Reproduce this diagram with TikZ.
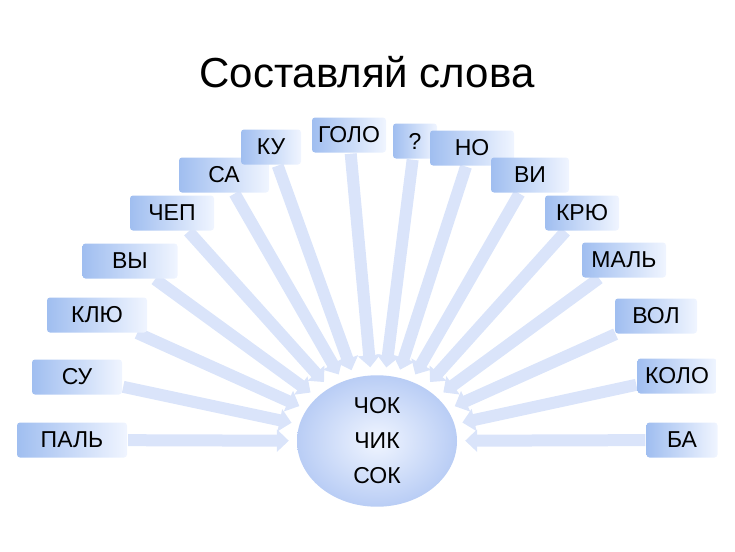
\documentclass[tikz,border=0pt]{standalone}
\usepackage{fontspec}
\setmainfont{Liberation Sans}
\usetikzlibrary{arrows.meta,shapes.geometric,backgrounds}
\definecolor{boxblue}{RGB}{160,190,240}
\definecolor{paleblue}{RGB}{240,245,255}
\definecolor{rayblue}{RGB}{218,228,250}
\definecolor{ballblue}{RGB}{185,205,245}

\tikzset{
  syl/.style={rounded corners=3pt,minimum height=35pt,inner sep=0pt,
    left color=boxblue,right color=paleblue,font=\fontsize{23}{23}\selectfont},
  ray/.style={line width=12pt,draw=rayblue,-{Triangle[width=22pt,length=12pt]},shorten >=8pt,shorten <=1pt},
}

\begin{document}
\begin{tikzpicture}[x=1pt,y=-1pt]
\useasboundingbox (0,0) rectangle (735,551);
\node[font=\fontsize{42}{42}\selectfont] (title) at (367,72) {Составляй слова};
\node[ellipse,minimum width=160pt,minimum height=112pt,inner color=paleblue,outer color=ballblue,
  font=\fontsize{23}{35}\selectfont,align=center] (root) at (377,441) {ЧОК\\ЧИК\\СОК};
\foreach \nm/\x/\y/\w/\txt in {pal/72/440/110/ПАЛЬ, su/77/377/90/СУ, klu/97/315/100/КЛЮ,
    vy/130/261/95/ВЫ, chep/172/213/84/ЧЕП, sa/224/175/90/СА, ku/271/147/60/КУ,
    golo/349/135/74/ГОЛО, q/415/141/44/?, no/472/148/84/НО, vi/530/175/78/ВИ,
    kru/582/213/74/КРЮ, mal/624/260/84/МАЛЬ, vol/656/316/82/ВОЛ, kolo/677/376/79/КОЛО,
    ba/682/440/71/БА}{
  \node[syl,minimum width=\w pt] (\nm) at (\x,\y) {\txt};
}
\begin{scope}[on background layer]
\foreach \nm in {pal,su,klu,vy,chep,sa,ku,golo,q,no,vi,kru,mal,vol,kolo,ba}{
  \draw[ray] (\nm) -- (root);
}
\end{scope}
\end{tikzpicture}
\end{document}
